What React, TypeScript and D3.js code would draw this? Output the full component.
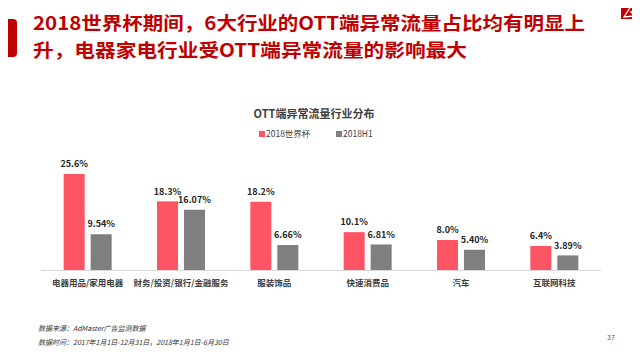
import React, { useEffect, useRef } from "react";
import * as d3 from "d3";

const categories = [
  "电器用品/家用电器",
  "财务/投资/银行/金融服务",
  "服装饰品",
  "快速消费品",
  "汽车",
  "互联网科技",
];
const seriesNames = ["2018世界杯", "2018H1"];
const worldCup = [25.6, 18.3, 18.2, 10.1, 8.0, 6.4];
const firstHalf = [9.54, 16.07, 6.66, 6.81, 5.4, 3.89];
const worldCupLabels = ["25.6%", "18.3%", "18.2%", "10.1%", "8.0%", "6.4%"];
const firstHalfLabels = ["9.54%", "16.07%", "6.66%", "6.81%", "5.40%", "3.89%"];

const titleLines = [
  "2018世界杯期间，6大行业的OTT端异常流量占比均有明显上",
  "升，电器家电行业受OTT端异常流量的影响最大",
];
const titleWidths = [552, 434];
const chartTitle = "OTT端异常流量行业分布";
const sourceLines = [
  "数据来源：AdMaster广告监测数据",
  "数据时间：2017年1月1日-12月31日，2018年1月1日-6月30日",
];
const pageNo = "37";

const colors = ["#FF5464", "#7F7F7F"];
const FONT = "'Noto Sans CJK SC', 'Microsoft YaHei', sans-serif";

const Chart = () => {
  const ref = useRef(null);

  useEffect(() => {
    const g = d3.select(ref.current);
    g.selectAll("*").remove();

    const x = d3.scaleBand().domain(categories).range([41, 601]);
    const xs = d3
      .scaleBand()
      .domain(seriesNames)
      .range([0, 48])
      .paddingInner(0.222);
    const y = d3.scaleLinear().domain([0, 25.6]).range([270, 174]);

    const values = [worldCup, firstHalf];
    const labels = [worldCupLabels, firstHalfLabels];

    seriesNames.forEach((s, si) => {
      const sg = g.append("g");
      sg.selectAll("rect")
        .data(values[si])
        .enter()
        .append("rect")
        .attr("x", (d, i) => x(categories[i]) + x.bandwidth() / 2 - 24 + xs(s))
        .attr("y", (d) => y(d))
        .attr("width", xs.bandwidth())
        .attr("height", (d) => y(0) - y(d))
        .attr("fill", colors[si]);

      sg.selectAll("text")
        .data(values[si])
        .enter()
        .append("text")
        .attr(
          "x",
          (d, i) =>
            x(categories[i]) + x.bandwidth() / 2 - 24 + xs(s) + xs.bandwidth() / 2
        )
        .attr("y", (d) => y(d) - 10)
        .attr("dy", "0.35em")
        .attr("text-anchor", "middle")
        .style("font-family", FONT)
        .style("font-size", "9px")
        .style("font-weight", "bold")
        .attr("fill", "#262626")
        .text((d, i) => labels[si][i]);
    });

    g.append("line")
      .attr("x1", 41)
      .attr("x2", 601)
      .attr("y1", y(0) + 0.5)
      .attr("y2", y(0) + 0.5)
      .attr("stroke", "#D9D9D9")
      .attr("stroke-width", 1);

    g.selectAll("text.cat")
      .data(categories)
      .enter()
      .append("text")
      .attr("class", "cat")
      .attr("x", (d) => x(d) + x.bandwidth() / 2)
      .attr("y", 283)
      .attr("dy", "0.35em")
      .attr("text-anchor", "middle")
      .style("font-family", FONT)
      .style("font-size", "8.5px")
      .style("font-weight", "bold")
      .attr("fill", "#404040")
      .text((d) => d);

    // legend
    const legendX = [259, 336];
    seriesNames.forEach((s, si) => {
      g.append("rect")
        .attr("x", legendX[si])
        .attr("y", 131)
        .attr("width", 6)
        .attr("height", 6)
        .attr("fill", colors[si]);
      g.append("text")
        .attr("x", legendX[si] + 7)
        .attr("y", 134)
        .attr("dy", "0.35em")
        .style("font-family", FONT)
        .style("font-size", "8.5px")
        .attr("fill", "#404040")
        .text(s);
    });

    g.append("text")
      .attr("x", 314)
      .attr("y", 114)
      .attr("dy", "0.35em")
      .attr("text-anchor", "middle")
      .style("font-family", FONT)
      .style("font-size", "11px")
      .style("font-weight", "bold")
      .attr("fill", "#404040")
      .text(chartTitle);
  }, []);

  return (
    <svg width={640} height={360} style={{ display: "block", background: "#fff" }}>
      {/* left marker and logo */}
      <path d="M0,19 H13 Q17,19 17,23 V53 Q17,57 13,57 H0 Z" fill="#C00000" />
      <rect x={621} y={0} width={19} height={19} fill="#C00000" />
      <path
        d="M624,17 L633,3 L637,12 L631,12 L635,16 Z"
        fill="none"
        stroke="#fff"
        strokeWidth={1.3}
      />
      {titleLines.map((t, i) => (
        <text
          key={i}
          x={33}
          y={24 + i * 27}
          dy="0.35em"
          textLength={titleWidths[i]}
          lengthAdjust="spacingAndGlyphs"
          style={{ fontFamily: FONT, fontSize: "18.5px", fontWeight: "bold" }}
          fill="#C00000"
        >
          {t}
        </text>
      ))}
      <g ref={ref} />
      {sourceLines.map((t, i) => (
        <text
          key={i}
          x={38}
          y={329 + i * 14}
          dy="0.35em"
          style={{ fontFamily: FONT, fontSize: "7px", fontStyle: "italic" }}
          fill="#333"
        >
          {t}
        </text>
      ))}
      <text
        x={607}
        y={338}
        dy="0.35em"
        style={{ fontFamily: FONT, fontSize: "7px" }}
        fill="#555"
      >
        {pageNo}
      </text>
      <rect x={226} y={356} width={188} height={4} fill="#C00000" />
    </svg>
  );
};

export default function App() {
  return (
    <div style={{ margin: -8 }}>
      <Chart />
    </div>
  );
}
